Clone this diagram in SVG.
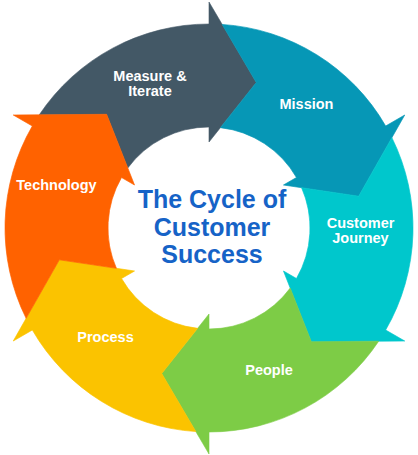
<svg xmlns="http://www.w3.org/2000/svg" width="418" height="455" viewBox="0 0 418 455">
<style>
.seg{stroke-width:0.6;stroke-linejoin:miter}
.lbl{font-family:"Liberation Sans",Arial,sans-serif;font-weight:bold;font-size:14.5px;fill:#ffffff;text-anchor:middle}
.title{font-family:"Liberation Sans",Arial,sans-serif;font-weight:bold;font-size:25px;fill:#1663c7;text-anchor:middle}
</style>
<defs>
<path id="seg" d="M -169.71 -113.2 A 204 204 0 0 1 0 -204 L 0 -226 L 47.28 -145.51 L 0 -86 L 0 -101 A 101 101 0 0 0 -81.21 -60.05 L -102.38 -113.7 Z"/>
</defs>
<rect width="418" height="455" fill="#ffffff"/>
<g id="connectors"></g>
<g id="measure-iterate">
<use href="#seg" class="seg" transform="translate(209 228) rotate(0)" fill="#435866" stroke="#435866"/>
<text class="lbl" x="150" y="81">Measure &amp;</text>
<text class="lbl" x="150" y="96">Iterate</text>
</g>
<g id="mission">
<use href="#seg" class="seg" transform="translate(209 228) rotate(60)" fill="#0697b6" stroke="#0697b6"/>
<text class="lbl" x="306.5" y="109">Mission</text>
</g>
<g id="customer-journey">
<use href="#seg" class="seg" transform="translate(209 228) rotate(120)" fill="#00c7cc" stroke="#00c7cc"/>
<text class="lbl" x="360.5" y="228">Customer</text>
<text class="lbl" x="360.5" y="243">Journey</text>
</g>
<g id="people">
<use href="#seg" class="seg" transform="translate(209 228) rotate(180)" fill="#7dcc46" stroke="#7dcc46"/>
<text class="lbl" x="269" y="375">People</text>
</g>
<g id="process">
<use href="#seg" class="seg" transform="translate(209 228) rotate(240)" fill="#fbc300" stroke="#fbc300"/>
<text class="lbl" x="105.5" y="342">Process</text>
</g>
<g id="technology">
<use href="#seg" class="seg" transform="translate(209 228) rotate(300)" fill="#ff6200" stroke="#ff6200"/>
<text class="lbl" x="56.5" y="190">Technology</text>
</g>
<g id="title">
<text class="title" x="212" y="208">The Cycle of</text>
<text class="title" x="212" y="235.5">Customer</text>
<text class="title" x="212" y="263">Success</text>
</g>
</svg>
